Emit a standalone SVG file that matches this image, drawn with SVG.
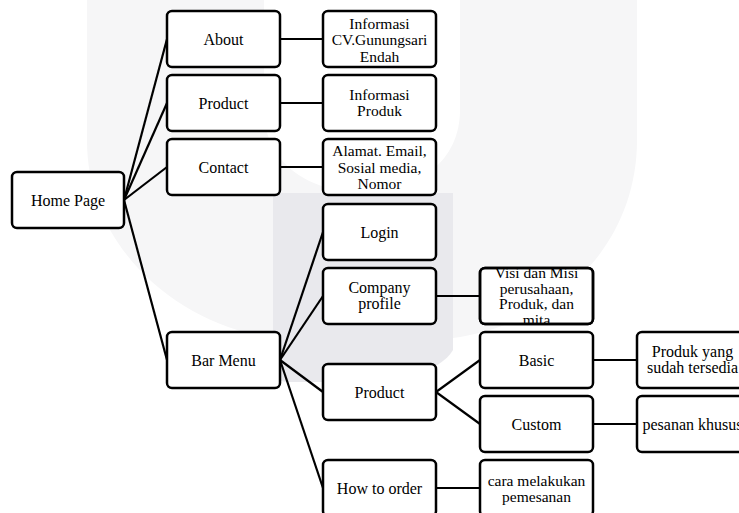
<svg xmlns="http://www.w3.org/2000/svg" width="739" height="513" viewBox="0 0 739 513">
<style>
.box{fill:#fff;stroke:#000;stroke-width:2.5}
.ov{fill:none;stroke:#000;stroke-width:2.5}
.t{font-family:"Liberation Serif","Times New Roman",serif;font-size:16px;fill:#000;text-anchor:middle}
.s{font-family:"Liberation Serif","Times New Roman",serif;font-size:15.5px;fill:#000;text-anchor:middle}
#connectors line{stroke:#000;stroke-width:2.2}
</style>
<rect width="739" height="513" fill="#fff"/>
<g id="watermark">
<path d="M87,0 L87,140 C87,250 180,325 273,338 L453,338 C550,325 637,250 637,140 L637,0 L460,0 L460,110 C460,160 420,192 362,192 C305,192 264,160 264,110 L264,0 Z" fill="#f6f6f7"/>
<path d="M273,193 L453,193 L453,350 C440,372 400,382 350,382 L288,382 Q273,382 273,367 Z" fill="#e9e9ed"/>
</g>
<g id="connectors">
<line x1="124" y1="200" x2="167" y2="39"/>
<line x1="124" y1="200" x2="167" y2="103"/>
<line x1="124" y1="200" x2="167" y2="167"/>
<line x1="124" y1="200" x2="167" y2="360"/>
<line x1="280" y1="39" x2="323" y2="39"/>
<line x1="280" y1="103" x2="323" y2="103"/>
<line x1="280" y1="167" x2="323" y2="167"/>
<line x1="280" y1="360" x2="323" y2="232"/>
<line x1="280" y1="360" x2="323" y2="296"/>
<line x1="280" y1="360" x2="323" y2="392"/>
<line x1="280" y1="360" x2="323" y2="488"/>
<line x1="436" y1="296" x2="480" y2="296"/>
<line x1="436" y1="392" x2="480" y2="360"/>
<line x1="436" y1="392" x2="480" y2="424"/>
<line x1="436" y1="488" x2="480" y2="488"/>
<line x1="593" y1="360" x2="637" y2="360"/>
<line x1="593" y1="424" x2="637" y2="424"/>
</g>
<g id="home"><rect class="box" x="12" y="172" width="112" height="56" rx="5"/><text class="t" x="68" y="205.5">Home Page</text></g>
<g id="about"><rect class="box" x="167" y="11" width="113" height="56" rx="5"/><text class="t" x="223.5" y="44.5">About</text></g>
<g id="product1"><rect class="box" x="167" y="75" width="113" height="56" rx="5"/><text class="t" x="223.5" y="108.5">Product</text></g>
<g id="contact"><rect class="box" x="167" y="139" width="113" height="56" rx="5"/><text class="t" x="223.5" y="172.5">Contact</text></g>
<g id="barmenu"><rect class="box" x="167" y="332" width="113" height="56" rx="5"/><text class="t" x="223.5" y="365.5">Bar Menu</text></g>
<g id="infocv"><rect class="box" x="323" y="11" width="113" height="56" rx="5"/><text class="s" x="379.5" y="28.5">Informasi</text><text class="s" x="379.5" y="45">CV.Gunungsari</text><text class="s" x="379.5" y="61.5">Endah</text></g>
<g id="infoproduk"><rect class="box" x="323" y="75" width="113" height="56" rx="5"/><text class="s" x="379.5" y="99.5">Informasi</text><text class="s" x="379.5" y="115.5">Produk</text></g>
<g id="alamat"><rect class="box" x="323" y="139" width="113" height="56" rx="5"/><text class="s" x="379.5" y="156">Alamat.  Email,</text><text class="s" x="379.5" y="172.5">Sosial media,</text><text class="s" x="379.5" y="189">Nomor</text></g>
<g id="login"><rect class="box" x="323" y="204" width="113" height="56" rx="5"/><text class="t" x="379.5" y="237.5">Login</text></g>
<g id="company"><rect class="box" x="323" y="268" width="113" height="56" rx="5"/><text class="t" x="379.5" y="293">Company</text><text class="t" x="379.5" y="309">profile</text></g>
<g id="product2"><rect class="box" x="323" y="364" width="113" height="56" rx="5"/><text class="t" x="379.5" y="397.5">Product</text></g>
<g id="howto"><rect class="box" x="323" y="460" width="113" height="56" rx="5"/><text class="t" x="379.5" y="493.5">How to order</text></g>
<g id="visi"><rect class="box" x="480" y="268" width="113" height="56" rx="5"/><text class="s" x="536.5" y="277.5">Visi dan Misi</text><text class="s" x="536.5" y="293.5">perusahaan,</text><text class="s" x="536.5" y="309">Produk, dan</text><text class="s" x="536.5" y="325">mita</text><rect class="ov" x="480" y="268" width="113" height="56" rx="5"/></g>
<g id="basic"><rect class="box" x="480" y="332" width="113" height="56" rx="5"/><text class="t" x="536.5" y="365.5">Basic</text></g>
<g id="custom"><rect class="box" x="480" y="396" width="113" height="56" rx="5"/><text class="t" x="536.5" y="429.5">Custom</text></g>
<g id="cara"><rect class="box" x="480" y="460" width="113" height="56" rx="5"/><text class="s" x="536.5" y="485.5">cara melakukan</text><text class="s" x="536.5" y="501.5">pemesanan</text></g>
<g id="produkyang"><rect class="box" x="637" y="332" width="113" height="56" rx="5"/><text class="t" x="692.5" y="356.5">Produk yang</text><text class="t" x="692.5" y="373">sudah tersedia</text></g>
<g id="pesanan"><rect class="box" x="637" y="396" width="113" height="56" rx="5"/><text class="t" x="692.5" y="429.5" font-size="16.5">pesanan khusus</text></g>
</svg>
